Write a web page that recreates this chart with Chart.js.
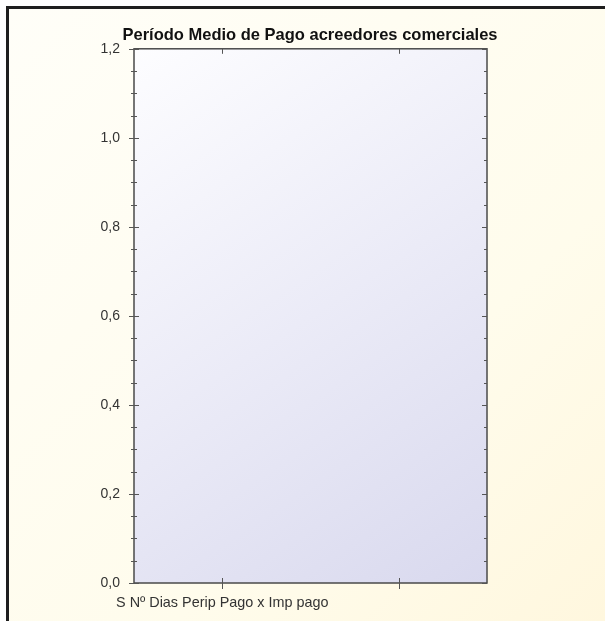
<!DOCTYPE html>
<html>
<head>
<meta charset="utf-8">
<script src="https://cdn.jsdelivr.net/npm/chart.js@4/dist/chart.umd.min.js"></script>
<style>
  html, body { margin: 0; padding: 0; background: #fff; }
  #wrap { width: 605px; height: 621px; }
</style>
</head>
<body>
<div id="wrap"><canvas id="pmpChart" width="605" height="621"></canvas></div>
<script>
// data: one labelled category, nothing plotted
var categories = ["S Nº Dias Perip Pago x Imp pago", ""];
var pmpValues = [null, null];
var yMin = 0;
var yMax = 1.2;
var yStep = 0.2;
var yMinorStep = 0.05;

// background, outer frame, plot box and the small tick marks
var framePlugin = {
  id: 'framePlugin',
  beforeDraw: function (chart) {
    var c = chart.ctx, a = chart.chartArea, w = chart.width, h = chart.height;
    c.save();
    c.fillStyle = '#ffffff';
    c.fillRect(0, 0, w, h);
    var g = c.createLinearGradient(9, 9, w, h);
    g.addColorStop(0, '#fffef8');
    g.addColorStop(0.65, '#fffcec');
    g.addColorStop(1, '#fff7de');
    c.fillStyle = g;
    c.fillRect(9, 9, w, h);
    c.fillStyle = '#1e1e1e';
    c.fillRect(6, 6, w, 3);
    c.fillRect(6, 6, 3, h);
    var p = c.createLinearGradient(a.left, a.top, a.right, a.bottom);
    p.addColorStop(0, '#fdfdff');
    p.addColorStop(0.5, '#ebebf7');
    p.addColorStop(1, '#d9d9ee');
    c.fillStyle = p;
    c.fillRect(a.left, a.top, a.right - a.left, a.bottom - a.top);
    c.restore();
  },
  afterDraw: function (chart) {
    var c = chart.ctx, a = chart.chartArea;
    var xs = chart.scales.x, ys = chart.scales.y;
    c.save();
    c.strokeStyle = '#4a4a4a';
    c.lineWidth = 1.5;
    c.strokeRect(a.left, a.top, a.right - a.left, a.bottom - a.top);

    c.lineWidth = 1;
    c.strokeStyle = '#555555';
    c.beginPath();
    var n = Math.round((yMax - yMin) / yMinorStep);
    for (var i = 0; i <= n; i++) {
      var py = Math.round(ys.getPixelForValue(yMin + i * yMinorStep)) + 0.5;
      var big = (i % Math.round(yStep / yMinorStep)) === 0;
      var l = big ? 5 : 3;
      c.moveTo(a.left - l, py);
      c.lineTo(a.left + l, py);
      c.moveTo(a.right - l, py);
      c.lineTo(a.right, py);
    }
    for (var j = 0; j < xs.ticks.length; j++) {
      var px = Math.round(xs.getPixelForTick(j)) + 0.5;
      c.moveTo(px, a.bottom - 5);
      c.lineTo(px, a.bottom + 6);
      c.moveTo(px, a.top);
      c.lineTo(px, a.top + 5);
    }
    c.stroke();
    c.restore();
  }
};

var ctx = document.getElementById('pmpChart');
var pmpChart = new Chart(ctx, {
  type: 'bar',
  data: {
    labels: categories,
    datasets: [{
      label: 'Período Medio de Pago',
      backgroundColor: 'rgba(90,90,200,0.8)',
      data: pmpValues
    }]
  },
  plugins: [framePlugin],
  options: {
    responsive: false,
    animation: false,
    layout: {
      padding: { left: 20, right: 5, top: 26, bottom: 0 }
    },
    plugins: {
      legend: { display: false },
      tooltip: { enabled: false },
      title: {
        display: true,
        text: 'Período Medio de Pago acreedores comerciales',
        color: '#111111',
        font: { family: 'Liberation Sans', size: 16.5, weight: 'bold', lineHeight: 1.2 },
        padding: { top: 0, bottom: 3 }
      }
    },
    scales: {
      x: {
        offset: true,
        grid: { display: false, drawTicks: false },
        border: { display: false },
        ticks: {
          autoSkip: false,
          maxRotation: 0,
          minRotation: 0,
          padding: 11,
          color: '#333333',
          font: { family: 'Liberation Sans', size: 14.4 }
        },
        afterFit: function (scale) { scale.height = 38; }
      },
      y: {
        min: yMin,
        max: yMax,
        grid: { display: false, drawTicks: false },
        border: { display: false },
        ticks: {
          stepSize: yStep,
          padding: 14,
          color: '#333333',
          font: { family: 'Liberation Sans', size: 14 },
          callback: function (value) {
            return Number(value).toFixed(1).replace('.', ',');
          }
        },
        afterFit: function (scale) { scale.width = 114; }
      },
      y2: {
        position: 'right',
        display: true,
        min: yMin,
        max: yMax,
        grid: { display: false, drawTicks: false },
        border: { display: false },
        ticks: { display: false },
        afterFit: function (scale) { scale.width = 113; }
      }
    }
  }
});
</script>
</body>
</html>
